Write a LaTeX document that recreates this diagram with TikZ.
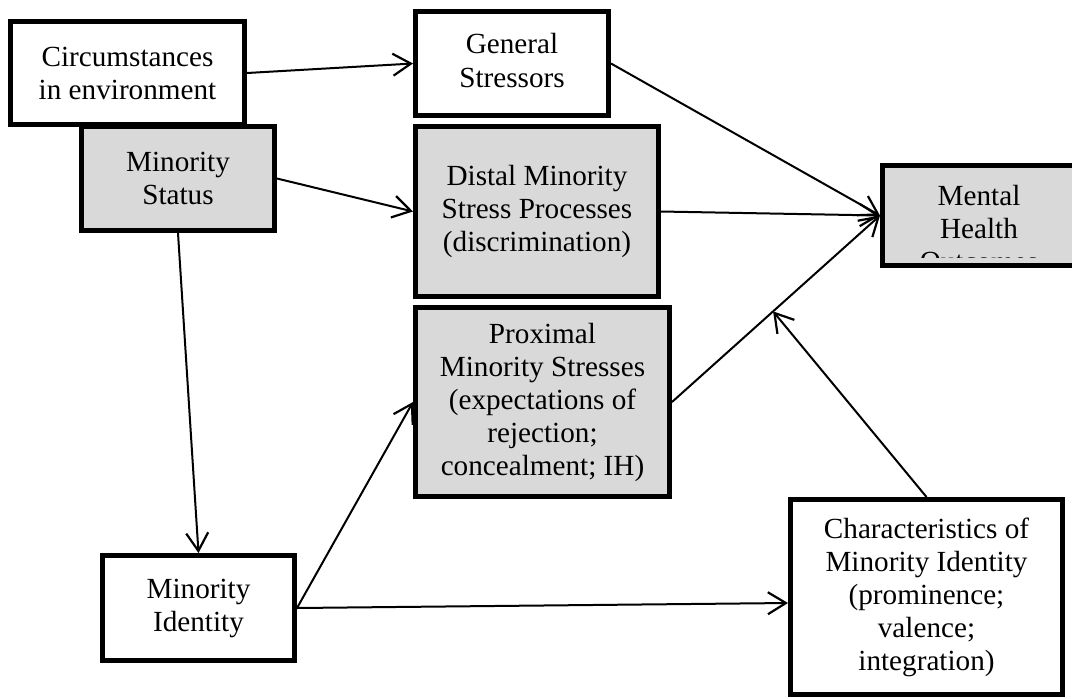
\documentclass[tikz,border=0pt]{standalone}
\usepackage{fontspec}
\setmainfont{Liberation Serif}
\usetikzlibrary{arrows.meta}
\definecolor{boxgray}{HTML}{D9D9D9}
\begin{document}
\begin{tikzpicture}[x=0.5pt,y=-0.5pt,
  box/.style={draw=black, line width=2.5pt, rectangle, inner sep=0pt, align=center,
    font=\fontsize{14.6pt}{16.5pt}\selectfont, text=black},
  whitebox/.style={box, fill=white},
  graybox/.style={box, fill=boxgray},
  conn/.style={line width=1pt, draw=black, -{Straight Barb[length=9pt,width=11pt,line width=1.1pt]}},
  plaintext/.style={inner sep=0pt, align=center, font=\fontsize{14.6pt}{16.5pt}\selectfont, text=black}
]
\useasboundingbox (0,0) rectangle (1072,698);

\node[whitebox, minimum width=117pt, minimum height=51.5pt] (circ) at (127.5,73) {Circumstances\\in environment};
\node[graybox, minimum width=96.5pt, minimum height=52pt] (ms) at (178,178.5) {Minority\\Status};
\node[whitebox, minimum width=96.5pt, minimum height=52pt] (gs) at (512,63.5) {\raisebox{-2pt}{\begin{tabular}{@{}c@{}}General\\[0.5pt]Stressors\end{tabular}}};
\node[graybox, minimum width=121.5pt, minimum height=85pt] (dis) at (537,211.5) {Distal Minority\\Stress Processes\\(discrimination)};
\node[graybox, minimum width=127pt, minimum height=94.5pt] (prox) at (542.5,402) {Proximal\\Minority Stresses\\(expectations of\\rejection;\\concealment; IH)};
\node[graybox, minimum width=96.75pt, minimum height=50pt] (mh) at (979.25,215.5) {};
\begin{scope}
  \clip (885,168) rectangle (1072,257);
  \node[plaintext, anchor=north] (mhtext) at (979,185) {Mental\\Health\\Outcomes};
\end{scope}
\node[whitebox, minimum width=96pt, minimum height=52.5pt] (mi) at (198.5,608) {Minority\\Identity};
\node[whitebox, minimum width=136pt, minimum height=97.5pt] (ch) at (926.5,597) {Characteristics of\\Minority Identity\\(prominence;\\valence;\\integration)};

\draw[conn] (circ.east) -- (gs.west);
\draw[conn] (ms.east) -- (dis.west);
\draw[conn] (gs.east) -- (mh.west);
\draw[conn] (dis.east) -- (mh.west);
\draw[conn] (prox.east) -- coordinate[pos=0.486] (mid) (mh.west);
\draw[conn] (ch.north) -- (mid);
\draw[conn] (ms.south) -- (mi.north);
\draw[conn] (mi.east) -- (prox.west);
\draw[conn] (mi.east) -- ([yshift=-3pt]ch.west);
\end{tikzpicture}
\end{document}
